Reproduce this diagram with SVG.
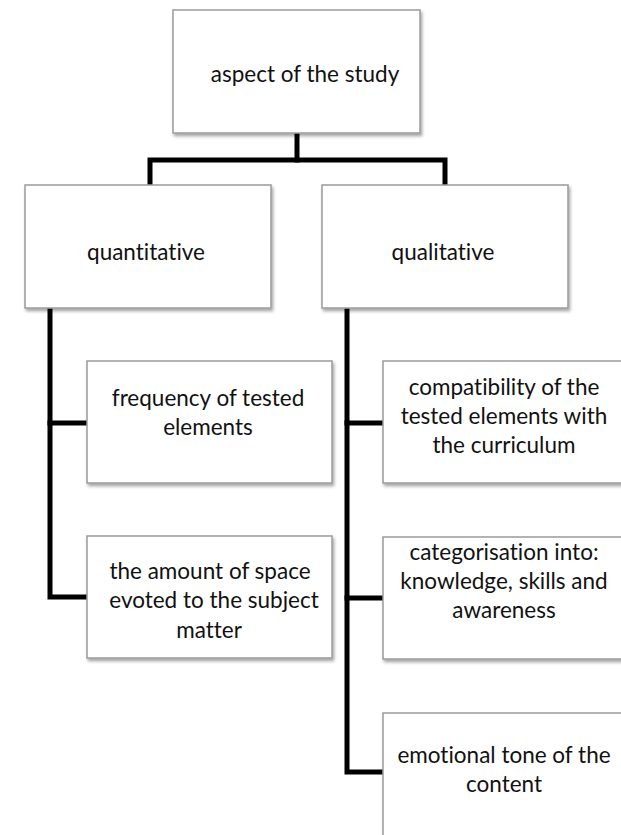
<svg xmlns="http://www.w3.org/2000/svg" width="621" height="835" viewBox="0 0 621 835">
<style>
.box{fill:#ffffff;stroke:#9a9a9a;stroke-width:1.5;filter:url(#sh)}
.t{font-family:Lato,"Open Sans",sans-serif;font-size:22.5px;fill:#111;text-anchor:middle;font-variant-ligatures:none}
.c{fill:none;stroke:#000;stroke-width:5;stroke-linejoin:miter;stroke-linecap:square}
</style>
<defs>
<filter id="sh" x="-5%" y="-5%" width="115%" height="120%">
<feDropShadow dx="1.5" dy="2.5" stdDeviation="1.5" flood-color="#000" flood-opacity="0.35"/>
</filter>
</defs>
<rect width="621" height="835" fill="#fff"/>
<g id="connectors">
<path class="c" d="M297,134 V160"/>
<path class="c" d="M150,184 V160 H445 V184"/>
<path class="c" d="M50,309 V597 H86"/>
<path class="c" d="M50,423 H86"/>
<path class="c" d="M347,309 V772 H382"/>
<path class="c" d="M347,423 H382"/>
<path class="c" d="M347,598 H382"/>
</g>
<g id="n-aspect"><rect class="box" x="173" y="10" width="247" height="123"/><text class="t" x="305" y="82">aspect of the study</text></g>
<g id="n-quant"><rect class="box" x="25" y="185" width="246" height="123"/><text class="t" x="146" y="260">quantitative</text></g>
<g id="n-qual"><rect class="box" x="322" y="185" width="246" height="123"/><text class="t" x="443" y="260">qualitative</text></g>
<g id="n-freq"><rect class="box" x="87" y="361" width="245" height="122"/><text class="t" x="208" y="406">frequency of tested</text><text class="t" x="208" y="435">elements</text></g>
<g id="n-amount"><rect class="box" x="87" y="536" width="245" height="122"/><text class="t" x="210" y="579">the amount of space</text><text class="t" x="214" y="608">evoted to the subject</text><text class="t" x="209" y="638">matter</text></g>
<g id="n-compat"><rect class="box" x="383" y="361" width="245" height="122"/><text class="t" x="504" y="395">compatibility of the</text><text class="t" x="504" y="424">tested elements with</text><text class="t" x="504" y="453">the curriculum</text></g>
<g id="n-categ"><rect class="box" x="383" y="537" width="245" height="122"/><text class="t" x="504" y="560">categorisation into:</text><text class="t" x="504" y="589">knowledge, skills and</text><text class="t" x="504" y="618">awareness</text></g>
<g id="n-emot"><rect class="box" x="383" y="713" width="245" height="130"/><text class="t" x="504" y="763">emotional tone of the</text><text class="t" x="504" y="792">content</text></g>
</svg>
